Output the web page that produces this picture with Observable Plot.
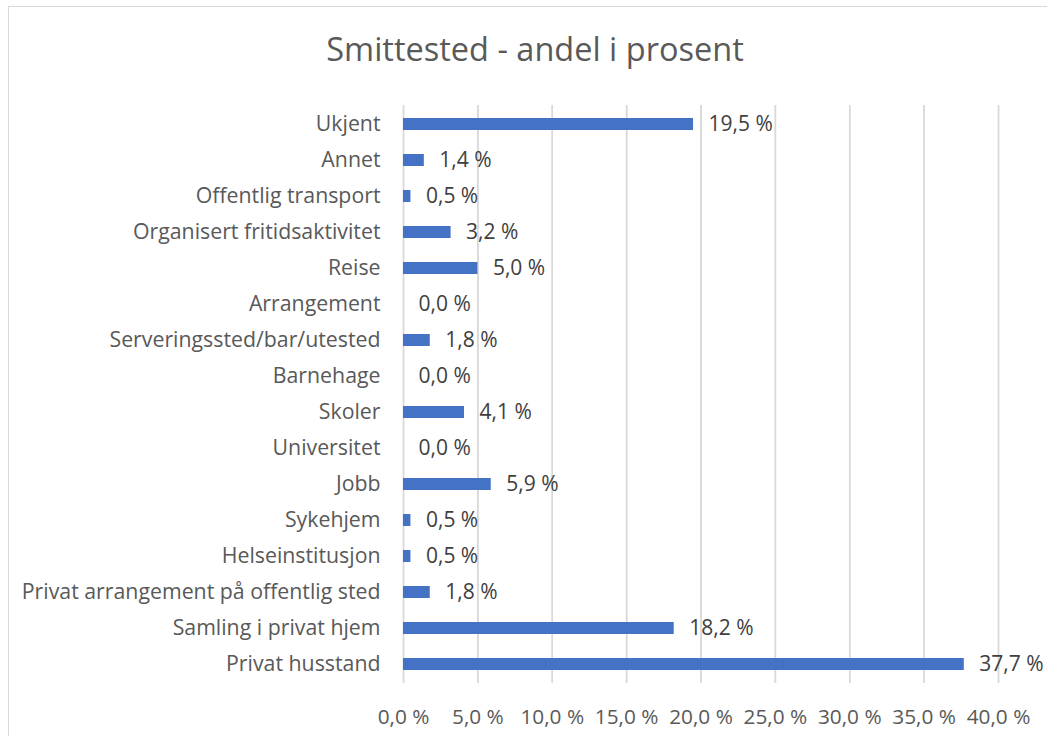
<!DOCTYPE html>
<html>
<head>
<meta charset="utf-8">
<script src="https://cdn.jsdelivr.net/npm/d3@7"></script>
<script src="https://cdn.jsdelivr.net/npm/@observablehq/plot@0.6"></script>
<style>
  html, body { margin: 0; padding: 0; background: #fff; width: 1047px; height: 736px; overflow: hidden; }
  #frame { position: absolute; left: 8px; top: 6px; width: 1060px; height: 760px; border: 1px solid #d9d9d9; box-sizing: border-box; }
  #title { position: absolute; left: 8px; top: 26px; width: 1054px; text-align: center; font-family: "Open Sans", sans-serif; font-size: 32.5px; color: #595959; }
  #chart { position: absolute; left: 0; top: 96px; }
</style>
</head>
<body>
<div id="frame"></div>
<div id="title">Smittested - andel i prosent</div>
<div id="chart"></div>
<script>
const categories = ["Ukjent","Annet","Offentlig transport","Organisert fritidsaktivitet","Reise","Arrangement","Serveringssted/bar/utested","Barnehage","Skoler","Universitet","Jobb","Sykehjem","Helseinstitusjon","Privat arrangement på offentlig sted","Samling i privat hjem","Privat husstand"];
const values = [19.5,1.4,0.5,3.2,5.0,0.0,1.8,0.0,4.1,0.0,5.9,0.5,0.5,1.8,18.2,37.7];
const xTicks = [0,5,10,15,20,25,30,35,40];

const data = categories.map((c, i) => ({cat: c, v: values[i]}));
const fmt = v => d3.format(".1f")(v).replace(".", ",") + " %";

const plot = Plot.plot({
  width: 1047,
  height: 640,
  marginLeft: 403,
  marginRight: 49,
  marginTop: 9,
  marginBottom: 53,
  style: {fontFamily: "Open Sans, sans-serif", fontSize: "20px", color: "#595959", background: "transparent"},
  x: {domain: [0, 40], ticks: xTicks, tickFormat: fmt, label: null},
  y: {domain: categories, label: null, paddingInner: 0.66, paddingOuter: 0.33},
  marks: [
    Plot.ruleX(xTicks, {stroke: "#d9d9d9", strokeWidth: 1.5}),
    Plot.tickX(xTicks, {x: d => d, stroke: "#d9d9d9", strokeWidth: 1.5}),
    Plot.axisX({ticks: xTicks, tickFormat: fmt, tickSize: 0, tickPadding: 26, fontSize: 20.8, fill: "#595959"}),
    Plot.axisY({tickSize: 0, tickPadding: 23, fontSize: 21.3, fill: "#595959"}),
    Plot.barX(data, {x: "v", y: "cat", fill: "#4472C4"}),
    Plot.text(data, {x: "v", y: "cat", text: d => fmt(d.v), textAnchor: "start", dx: 15, fill: "#404040", fontSize: 21})
  ]
});
document.getElementById("chart").appendChild(plot);
</script>
</body>
</html>
